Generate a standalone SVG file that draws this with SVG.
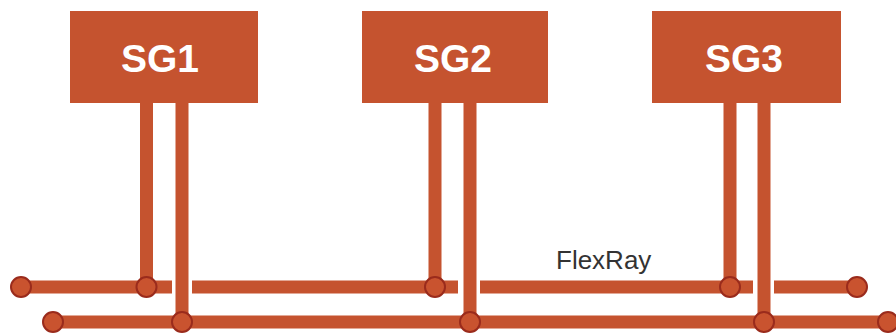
<svg xmlns="http://www.w3.org/2000/svg" width="896" height="334" viewBox="0 0 896 334">
<style>
.box{fill:#C5532F}
.lbl{font-family:"Liberation Sans",Arial,sans-serif;font-weight:bold;font-size:39px;fill:#FFFFFF;text-anchor:middle}
.wire{stroke:#C5532F;stroke-width:13;fill:none}
.dot{fill:#C9532F;stroke:#9A2B1C;stroke-width:2}
.bus{font-family:"Liberation Sans",Arial,sans-serif;font-size:26px;fill:#333333}
</style>
<rect width="896" height="334" fill="#FFFFFF"/>
<g id="connectors">
  <!-- bus 1 (with gaps where channel B verticals pass) -->
  <path class="wire" d="M21 287 H172 M192 287 H458 M480 287 H753 M774 287 H857"/>
  <!-- bus 2 -->
  <path class="wire" d="M53 322 H896"/>
  <!-- verticals to bus 1 -->
  <path class="wire" d="M146.5 103 V287 M435 103 V287 M730 103 V287"/>
  <!-- verticals to bus 2 -->
  <path class="wire" d="M182 103 V322 M470 103 V322 M764 103 V322"/>
  <circle class="dot" cx="21" cy="287" r="10"/>
  <circle class="dot" cx="146.5" cy="287" r="10"/>
  <circle class="dot" cx="435" cy="287" r="10"/>
  <circle class="dot" cx="730" cy="287" r="10"/>
  <circle class="dot" cx="857" cy="287" r="10"/>
  <circle class="dot" cx="53" cy="322" r="10"/>
  <circle class="dot" cx="182" cy="322" r="10"/>
  <circle class="dot" cx="470" cy="322" r="10"/>
  <circle class="dot" cx="764" cy="322" r="10"/>
  <circle class="dot" cx="888" cy="322" r="10"/>
</g>
<g id="SG1">
  <rect class="box" x="70" y="11" width="188" height="92"/>
  <text class="lbl" x="160" y="72">SG1</text>
</g>
<g id="SG2">
  <rect class="box" x="362" y="11" width="186" height="92"/>
  <text class="lbl" x="453" y="72">SG2</text>
</g>
<g id="SG3">
  <rect class="box" x="652" y="11" width="189" height="92"/>
  <text class="lbl" x="744" y="72">SG3</text>
</g>
<text class="bus" x="556" y="269">FlexRay</text>
</svg>
